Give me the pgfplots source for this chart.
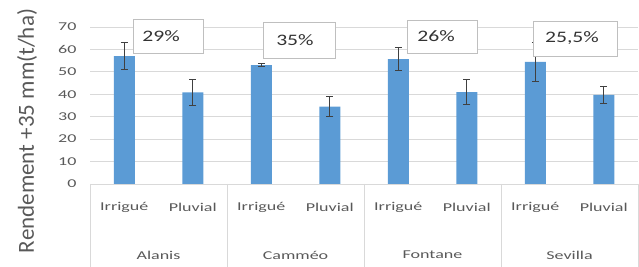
\documentclass[border=0pt]{standalone}
\usepackage{pgfplots}
\pgfplotsset{compat=1.18}
\usepackage{fontspec}
\setmainfont{Carlito}
\newfontfamily\wide[FakeStretch=1.5]{Carlito}
\newfontfamily\widebox[FakeStretch=1.35]{Carlito}
\definecolor{barblue}{HTML}{5B9BD5}
\definecolor{txtgray}{HTML}{595959}
\definecolor{gridgray}{HTML}{D9D9D9}
\definecolor{boxgray}{HTML}{BFBFBF}
\definecolor{errgray}{HTML}{404040}
\begin{document}
\begin{tikzpicture}
\path[use as bounding box] (-90pt,-83pt) rectangle (549pt,184pt);
\begin{axis}[
  at={(0pt,0pt)}, anchor=south west,
  scale only axis, width=548pt, height=157pt,
  xmin=-0.5, xmax=7.5, ymin=0, ymax=70,
  ytick={0,10,...,70},
  xtick={0,...,7},
  xticklabels={Irrigué,Pluvial,Irrigué,Pluvial,Irrigué,Pluvial,Irrigué,Pluvial},
  axis line style={draw=none},
  major tick length=0pt,
  ymajorgrids, grid style={gridgray, line width=0.8pt},
  /pgf/number format/assume math mode=true,
  yticklabel style={font=\wide\fontsize{12}{14}\selectfont, text=txtgray, anchor=east, xshift=-10pt},
  xticklabel style={font=\wide\fontsize{12}{14}\selectfont, text=txtgray, anchor=center, yshift=-23pt},
  clip=false,
]
\addplot[ybar, bar width=21pt, fill=barblue, draw=none,
  error bars/.cd, y dir=both, y explicit,
  error bar style={errgray, line width=1pt},
  error mark options={rotate=90, mark size=3.5pt, errgray, line width=1pt}]
  table[x=x, y=y, y error=e] {
x y e
0 57 6
1 40.8 6
2 53 0.7
3 34.5 4.3
4 55.7 5
5 41 5.6
6 54.4 8.5
7 39.7 3.6
};
\draw[gridgray, line width=0.8pt] (axis cs:-0.5,0) -- (axis cs:7.5,0);
\pgfplotsinvokeforeach{-0.5,1.5,3.5,5.5,7.5}{
  \draw[gridgray, line width=0.8pt] (axis cs:#1,0) -- ([yshift=-83pt]axis cs:#1,0);
}
\node[font=\wide\fontsize{12}{14}\selectfont, text=txtgray] at ([yshift=-71pt]axis cs:0.5,0) {Alanis};
\node[font=\wide\fontsize{12}{14}\selectfont, text=txtgray] at ([yshift=-71pt]axis cs:2.5,0) {Camméo};
\node[font=\wide\fontsize{12}{14}\selectfont, text=txtgray] at ([yshift=-71pt]axis cs:4.5,0) {Fontane};
\node[font=\wide\fontsize{12}{14}\selectfont, text=txtgray] at ([yshift=-71pt]axis cs:6.5,0) {Sevilla};
% percent boxes
\node[draw=boxgray, fill=white, line width=0.8pt, minimum width=70pt, minimum height=34pt] at (axis cs:0.639,66) {};
\node[font=\widebox\fontsize{16}{18}\selectfont, text=black!80] at ([xshift=-7pt]axis cs:0.639,66) {29\%};
\node[draw=boxgray, fill=white, line width=0.8pt, minimum width=72pt, minimum height=36pt] at (axis cs:2.55,64.2) {};
\node[font=\widebox\fontsize{16}{18}\selectfont, text=black!80] at ([xshift=-4pt]axis cs:2.55,64.2) {35\%};
\node[draw=boxgray, fill=white, line width=0.8pt, minimum width=70pt, minimum height=33pt] at (axis cs:4.64,65.8) {};
\node[font=\widebox\fontsize{16}{18}\selectfont, text=black!80] at ([xshift=-6pt]axis cs:4.64,65.8) {26\%};
\node[draw=boxgray, fill=white, line width=0.8pt, minimum width=84pt, minimum height=35pt] at (axis cs:6.58,64.9) {};
\node[font=\widebox\fontsize{16}{18}\selectfont, text=black!80] at ([xshift=-3pt]axis cs:6.58,64.9) {25,5\%};
\end{axis}
\node[rotate=90, font=\fontsize{23}{25}\selectfont, text=txtgray] at (-63pt,53pt) {Rendement +35 mm(t/ha)};
\end{tikzpicture}
\end{document}
